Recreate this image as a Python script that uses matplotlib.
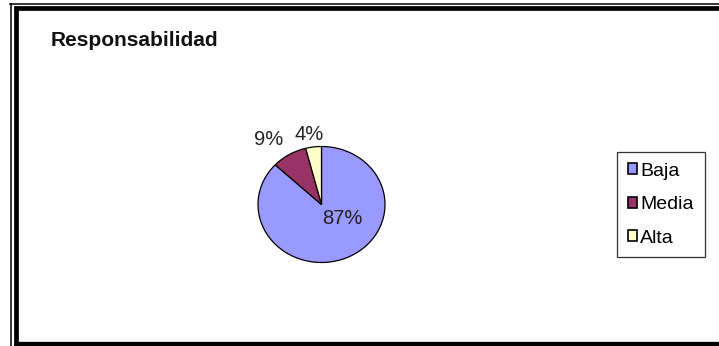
import matplotlib
matplotlib.use("Agg")
import matplotlib.pyplot as plt
from matplotlib.lines import Line2D
from matplotlib.patches import Patch

# Data
title = "Responsabilidad"
categories = ["Baja", "Media", "Alta"]
values = [87, 9, 4]
colors = ["#9999FF", "#993366", "#FFFFCC"]

# Layout (pixels on a 719x346 canvas)
W, H = 719, 346
plt.rcParams["font.family"] = ["Liberation Sans", "DejaVu Sans"]

fig = plt.figure(figsize=(W / 100, H / 100), dpi=100)
fig.patch.set_facecolor("white")


def fx(px):
    return px / W


def fy(py):
    return 1 - py / H


# Pie area: centre and radii in pixels, drawn with a wider data range so
# labels outside the pie still sit inside the axes.
cx, cy, rx, ry = 321.5, 204.5, 63.5, 58.0
span = 1.6
ax = fig.add_axes([fx(cx - rx * span), fy(cy + ry * span),
                   2 * rx * span / W, 2 * ry * span / H])
wedges, _ = ax.pie(values, colors=colors, startangle=90, counterclock=False,
                   wedgeprops=dict(edgecolor="black", linewidth=0.9))
ax.set_aspect("auto")
ax.set_xlim(-span, span)
ax.set_ylim(-span, span)
ax.axis("off")

# Percentage labels
label_pos = [(0.33, -0.25), (-0.84, 1.12), (-0.19, 1.21)]
for v, (lx, ly) in zip(values, label_pos):
    ax.text(lx, ly, f"{v}%", ha="center", va="center", fontsize=14.5,
            color="#222222")

# Title
fig.text(fx(51), fy(46), title, fontsize=15, fontweight="bold",
         ha="left", va="baseline", color="#111111")

# Legend
handles = [Patch(facecolor=c, edgecolor="black", linewidth=1.2)
           for c in colors]
leg = fig.legend(handles, categories, loc="upper left",
                 bbox_to_anchor=(fx(617), fy(152)), borderaxespad=0,
                 fontsize=14, frameon=True, fancybox=False,
                 handlelength=0.5, handleheight=0.5, handletextpad=0.15,
                 labelspacing=0.85, borderpad=0.55)
leg.get_frame().set_edgecolor("black")
leg.get_frame().set_linewidth(0.9)

# Double frame on the left, top and bottom edges
thin = 1.1
thick = 3.4
fig.add_artist(Line2D([fx(11), fx(11)], [fy(3.5), fy(H + 5)],
                      transform=fig.transFigure, color="black", lw=thin))
fig.add_artist(Line2D([fx(10.3), fx(W + 5)], [fy(3.8), fy(3.8)],
                      transform=fig.transFigure, color="black", lw=thin))
fig.add_artist(Line2D([fx(16), fx(16)], [fy(6), fy(H + 5)],
                      transform=fig.transFigure, color="black", lw=thick,
                      solid_capstyle="butt"))
fig.add_artist(Line2D([fx(14), fx(W + 5)], [fy(8.3), fy(8.3)],
                      transform=fig.transFigure, color="black", lw=thick,
                      solid_capstyle="butt"))
fig.add_artist(Line2D([fx(14), fx(W + 5)], [fy(343.5), fy(343.5)],
                      transform=fig.transFigure, color="black", lw=3.8,
                      solid_capstyle="butt"))

fig.savefig("out.png", dpi=100, facecolor="white")
